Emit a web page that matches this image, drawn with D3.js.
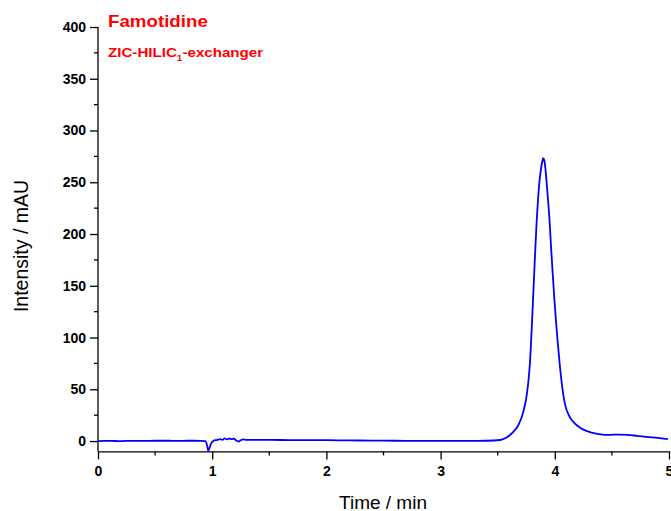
<!DOCTYPE html>
<html>
<head>
<meta charset="utf-8">
<script src="https://cdn.jsdelivr.net/npm/d3@7"></script>
<style>
  html, body { margin: 0; padding: 0; background: #fff; }
  svg { display: block; }
</style>
</head>
<body>
<svg id="chart" width="671" height="511"></svg>
<script>
// ---- data ----
const xTicks = [0, 1, 2, 3, 4, 5];
const yTicks = [0, 50, 100, 150, 200, 250, 300, 350, 400];
const timeMin = [
  0.00, 0.10, 0.20, 0.30, 0.40, 0.50, 0.60, 0.70, 0.80, 0.90, 0.94,
  0.955, 0.966, 0.975, 0.99, 1.01, 1.04, 1.07, 1.09, 1.11, 1.13, 1.15, 1.17, 1.19, 1.21, 1.23, 1.25, 1.27, 1.30,
  1.40, 1.60, 1.80, 2.00, 2.20, 2.40, 2.60, 2.80, 3.00, 3.20, 3.40, 3.52, 3.57,
  3.608, 3.65, 3.681, 3.705, 3.724, 3.74, 3.754, 3.77, 3.783, 3.798, 3.812, 3.827, 3.841, 3.853, 3.864,
  3.878, 3.890, 3.899, 3.908, 3.918, 3.929, 3.94, 3.952, 3.967, 3.982, 3.997, 4.011, 4.025, 4.045, 4.074,
  4.095, 4.118, 4.15, 4.19, 4.25, 4.323, 4.40, 4.48, 4.56, 4.64, 4.72, 4.80, 4.90, 4.99
];
const intensity = [
  0.0, 0.1, 0.0, 0.2, 0.1, 0.3, 0.3, 0.2, 0.3, 0.2, 0.0,
  -4.0, -9.5, -7.0, -2.5, 0.2, 1.0, 1.8, 1.2, 2.6, 1.6, 2.5, 1.8, 2.4, 0.5, -0.5, 0.8, 1.6, 1.2,
  1.2, 1.0, 0.8, 0.8, 0.6, 0.5, 0.3, 0.2, 0.2, 0.2, 0.3, 1.0, 3.0,
  5.8, 10.5, 15.5, 21.5, 28.3, 35.5, 44.4, 59, 76.6, 108.9, 143, 180, 212, 233, 249,
  262, 270, 273.2, 271, 263, 249, 234, 216.7, 188, 161, 136, 115, 96, 72, 45,
  33, 26, 20, 15.5, 11, 8.2, 6.5, 6.0, 6.3, 6.0, 5.0, 4.0, 3.0, 1.9
];
const chartTitle = "Famotidine";
const columnLabel = "ZIC-HILIC";
const columnSub = "1";
const columnSuffix = "-exchanger";
const xTitle = "Time / min";
const yTitle = "Intensity / mAU";

// ---- chart ----
const svg = d3.select("#chart");
const x = d3.scaleLinear().domain([0, 5]).range([98, 669]);
const y = d3.scaleLinear().domain([-10, 400]).range([451.4, 27]);

const tickFont = "'Liberation Sans', Arial, sans-serif";

// y axis
const yAxis = d3.axisLeft(y).tickValues(yTicks).tickFormat(d3.format("d"))
  .tickSize(8).tickSizeOuter(0).tickPadding(4);
const gy = svg.append("g").attr("transform", `translate(${x(0)},0)`).call(yAxis);
gy.select(".domain").attr("d", `M0,${y(400)}V${y(-10)}`);
const yMinor = d3.range(25, 400, 50);
gy.selectAll(".minor").data(yMinor).enter().append("line")
  .attr("class", "minor").attr("x1", 0).attr("x2", -4)
  .attr("y1", d => y(d)).attr("y2", d => y(d)).attr("stroke", "#000");

// x axis
const xAxis = d3.axisBottom(x).tickValues(xTicks).tickFormat(d3.format("d"))
  .tickSize(8).tickSizeOuter(0).tickPadding(7);
const gx = svg.append("g").attr("transform", `translate(0,${y(-10)})`).call(xAxis);
const xMinor = d3.range(0.5, 5, 1);
gx.selectAll(".minor").data(xMinor).enter().append("line")
  .attr("class", "minor").attr("y1", 0).attr("y2", 4)
  .attr("x1", d => x(d)).attr("x2", d => x(d)).attr("stroke", "#000");

[gx, gy].forEach(g => {
  g.selectAll("path, line").attr("stroke", "#000").attr("stroke-width", 1.3);
  g.selectAll("text").attr("font-family", tickFont).attr("font-weight", "bold")
    .attr("font-size", 14).attr("fill", "#000");
});

// data line
const line = d3.line().x((d, i) => x(timeMin[i])).y(d => y(d)).curve(d3.curveMonotoneX);
svg.append("path").datum(intensity)
  .attr("d", line).attr("fill", "none").attr("stroke", "#0000ff").attr("stroke-width", 1.8);

// titles
svg.append("text").attr("x", 383).attr("y", 508.5).attr("text-anchor", "middle")
  .attr("font-family", tickFont).attr("font-size", 19).attr("fill", "#000").text(xTitle);
svg.append("text").attr("transform", "translate(28,246) rotate(-90)").attr("text-anchor", "middle")
  .attr("font-family", tickFont).attr("font-size", 19.5).attr("fill", "#000").text(yTitle);

svg.append("text").attr("transform", "translate(108,27) scale(1.17,1)")
  .attr("font-family", tickFont).attr("font-weight", "bold").attr("font-size", 16)
  .attr("fill", "#ff0000").text(chartTitle);
const sub = svg.append("text").attr("transform", "translate(108,57) scale(1.12,1)")
  .attr("font-family", tickFont).attr("font-weight", "bold").attr("font-size", 13.5)
  .attr("fill", "#ff0000");
sub.append("tspan").text(columnLabel);
sub.append("tspan").attr("font-size", 9).attr("dy", 4).text(columnSub);
sub.append("tspan").attr("dy", -4).text(columnSuffix);
</script>
</body>
</html>
